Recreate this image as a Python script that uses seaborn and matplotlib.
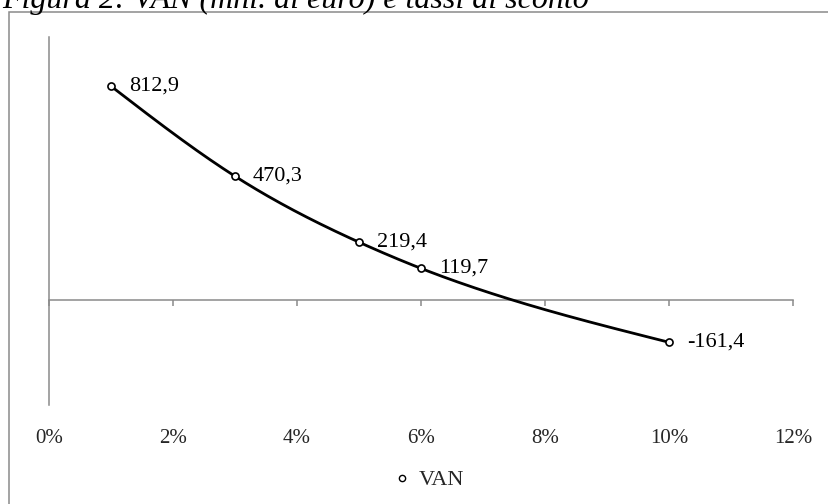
import numpy as np
import pandas as pd
import matplotlib
matplotlib.use("Agg")
import matplotlib.pyplot as plt
from matplotlib.lines import Line2D
from matplotlib.patches import Rectangle
from matplotlib.ticker import FuncFormatter
import seaborn as sns

# Discount rates (%) and net present value (VAN, mln. di euro)
rates = [1, 3, 5, 6, 10]
van = [812.9, 470.3, 219.4, 119.7, -161.4]
x_ticks = [0, 2, 4, 6, 8, 10, 12]
title = "Figura 2: VAN (mnl. di euro) e tassi di sconto"
series_name = "VAN"

sns.set_theme(style="white")
plt.rcParams["font.family"] = ["Liberation Serif", "DejaVu Serif"]

W, H = 829, 504
fig = plt.figure(figsize=(W / 100, H / 100), dpi=100)
left, right, top, bottom = 49, 793, 37, 405
ax = fig.add_axes([left / W, (H - bottom) / H, (right - left) / W, (bottom - top) / H])

XMIN, XMAX, YMIN, YMAX = 0, 12, -400, 1000
ax.set_xlim(XMIN, XMAX)
ax.set_ylim(YMIN, YMAX)


def natural_spline(xv, yv, n=300):
    """Natural cubic spline through the data points."""
    x = np.asarray(xv, float)
    y = np.asarray(yv, float)
    k = len(x)
    h = np.diff(x)
    A = np.zeros((k, k))
    b = np.zeros(k)
    A[0, 0] = A[-1, -1] = 1.0
    for i in range(1, k - 1):
        A[i, i - 1] = h[i - 1]
        A[i, i] = 2 * (h[i - 1] + h[i])
        A[i, i + 1] = h[i]
        b[i] = 6 * ((y[i + 1] - y[i]) / h[i] - (y[i] - y[i - 1]) / h[i - 1])
    M = np.linalg.solve(A, b)
    xs = np.linspace(x[0], x[-1], n)
    idx = np.clip(np.searchsorted(x, xs) - 1, 0, k - 2)
    x0, x1 = x[idx], x[idx + 1]
    hh = x1 - x0
    t0, t1 = x1 - xs, xs - x0
    ys = (M[idx] * t0 ** 3 + M[idx + 1] * t1 ** 3) / (6 * hh) \
        + (y[idx] / hh - M[idx] * hh / 6) * t0 \
        + (y[idx + 1] / hh - M[idx + 1] * hh / 6) * t1
    return xs, ys


cx, cy = natural_spline(rates, van)
curve = pd.DataFrame({"rate": cx, "van": cy})
points = pd.DataFrame({"rate": rates, "van": van})

sns.lineplot(data=curve, x="rate", y="van", ax=ax, color="black", linewidth=2.0,
             sort=False, estimator=None, legend=False, zorder=3)
sns.scatterplot(data=points, x="rate", y="van", ax=ax, marker="o", s=26,
                facecolor="white", edgecolor="black", linewidth=1.2, legend=False, zorder=4)

for xr, v in zip(rates, van):
    ax.annotate(f"{v:.1f}".replace(".", ","), (xr, v), xytext=(13, 0),
                textcoords="offset points", ha="left", va="center",
                fontsize=16, color="black")

gray = "#8a8a8a"
ax.spines["top"].set_visible(False)
ax.spines["right"].set_visible(False)
ax.spines["left"].set_color(gray)
ax.spines["left"].set_linewidth(1.1)
ax.spines["bottom"].set_position(("data", 0))
ax.spines["bottom"].set_color(gray)
ax.spines["bottom"].set_linewidth(1.1)
ax.set_yticks([])
ax.set_xticks(x_ticks)
ax.tick_params(axis="x", direction="out", length=4.5, width=1.1, color=gray,
               labelbottom=False, bottom=True)
ax.set_xlabel("")
ax.set_ylabel("")

# Tick labels sit below the plot area, away from the zero line
sec = ax.secondary_xaxis("bottom")
sec.set_xticks(x_ticks)
sec.xaxis.set_major_formatter(FuncFormatter(lambda v, p: f"{int(v)}%"))
sec.spines["bottom"].set_visible(False)
sec.tick_params(axis="x", length=0, pad=17, labelsize=15)

handle = Line2D([], [], linestyle="none", marker="o", markersize=4.5,
                markerfacecolor="white", markeredgecolor="black", markeredgewidth=1.0)
fig.legend([handle], [series_name], loc="center", bbox_to_anchor=(429 / W, (H - 480) / H),
           frameon=False, fontsize=16, handlelength=0.8, handletextpad=0.35)

# Chart frame and caption
fig.add_artist(Rectangle((9 / W, -0.2), 2.0, (H - 12) / H + 0.2, transform=fig.transFigure,
                         fill=False, edgecolor=gray, linewidth=1.1))
fig.text(2 / W, (H - 8) / H, title, fontsize=23, fontstyle="italic",
         ha="left", va="baseline", color="black")

fig.savefig("out.png", dpi=100)
